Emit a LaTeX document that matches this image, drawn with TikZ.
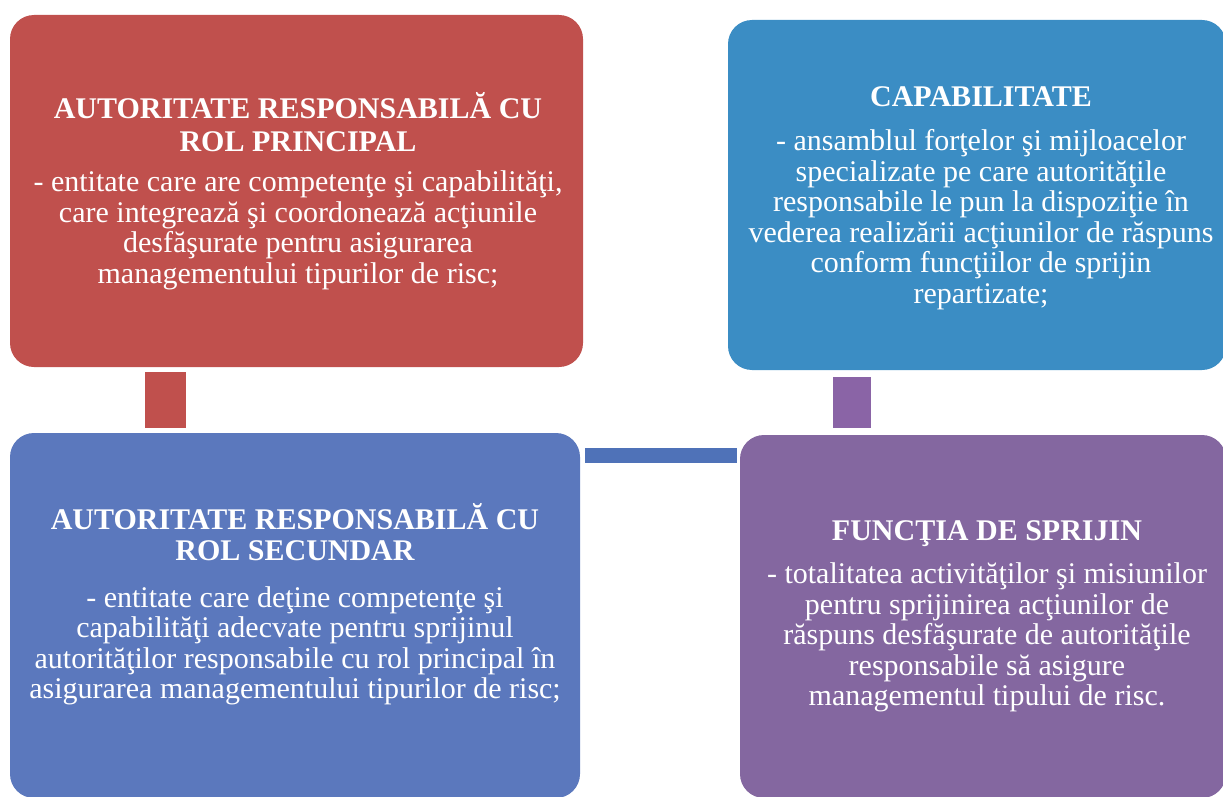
\documentclass[tikz,border=0pt]{standalone}
\usepackage{fontspec}
\setmainfont{Liberation Serif}
\usetikzlibrary{calc}
\definecolor{cred}{HTML}{C0504D}
\definecolor{cteal}{HTML}{3B8DC4}
\definecolor{cblue}{HTML}{5B78BD}
\definecolor{cpurple}{HTML}{8467A0}
\definecolor{cbar}{HTML}{4F72B8}
\definecolor{cplink}{HTML}{8A64A6}
\begin{document}
\begin{tikzpicture}[x=1pt,y=-1pt,
  box/.style={rounded corners=24pt, draw=none, inner sep=0pt, outer sep=0pt},
  ttl/.style={text=white, inner sep=0pt, anchor=base,
    font=\fontsize{30}{30.5}\selectfont\bfseries},
  txt/.style={text=white, align=center, inner sep=0pt, anchor=north,
    font=\fontsize{30}{30.5}\selectfont},
  linkbar/.style={line width=#1}]
\clip (0,0) rectangle (1223,797);
% boxes
\node[box, fill=cred, minimum width=573pt, minimum height=352pt] (tl) at (296.5,191) {};
\node[box, fill=cteal, minimum width=498pt, minimum height=350pt] (tr) at (977,195) {};
\node[box, fill=cblue, minimum width=570pt, minimum height=365pt] (bl) at (295,615.5) {};
\node[box, fill=cpurple, minimum width=486pt, minimum height=363pt] (br) at (983,616.5) {};
% connectors
\draw[cred, linkbar=41pt] ($(tl.south west)+(155.5,5)$) -- ($(bl.north west)+(155.5,-5)$);
\draw[cbar, linkbar=15pt] ($(bl.north east)+(5,22.5)$) -- ($(br.north west)+(-3,20.5)$);
\draw[cplink, linkbar=38pt] ($(tr.south west)+(124,7)$) -- ($(br.north west)+(112,-7)$);
% top-left texts
\node[ttl] (tlt1) at (298,119) {AUTORITATE RESPONSABILĂ CU};
\node[ttl] (tlt2) at (298,151) {ROL PRINCIPAL};
\node[txt] (tlb) at (298,170.15) {\strut- entitate care are competenţe şi capabilităţi,\\
  care integrează şi coordonează acţiunile\\
  desfăşurate pentru asigurarea\\
  managementului tipurilor de risc;};
% top-right texts
\node[ttl] (trt1) at (981,107) {CAPABILITATE};
\node[txt] (trb) at (981,129.15) {\strut- ansamblul forţelor şi mijloacelor\\
  specializate pe care autorităţile\\
  responsabile le pun la dispoziţie în\\
  vederea realizării acţiunilor de răspuns\\
  conform funcţiilor de sprijin\\
  repartizate;};
% bottom-left texts
\node[ttl] (blt1) at (295,529) {AUTORITATE RESPONSABILĂ CU};
\node[ttl] (blt2) at (295,560) {ROL SECUNDAR};
\node[txt] (blb) at (295,585.65) {\strut- entitate care deţine competenţe şi\\
  capabilităţi adecvate pentru sprijinul\\
  autorităţilor responsabile cu rol principal în\\
  asigurarea managementului tipurilor de risc;};
% bottom-right texts
\node[ttl] (brt1) at (987,540) {FUNCŢIA DE SPRIJIN};
\node[txt] (brb) at (987,562.15) {\strut- totalitatea activităţilor şi misiunilor\\
  pentru sprijinirea acţiunilor de\\
  răspuns desfăşurate de autorităţile\\
  responsabile să asigure\\
  managementul tipului de risc.};
\end{tikzpicture}
\end{document}
